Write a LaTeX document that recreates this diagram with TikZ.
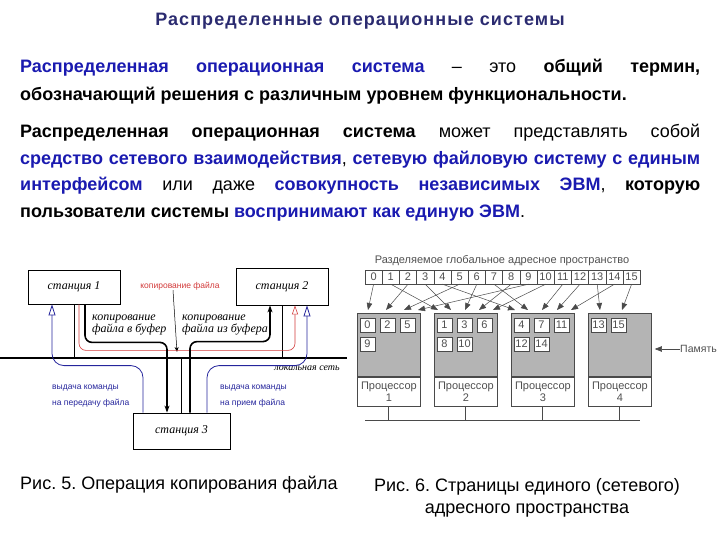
\documentclass[tikz,border=0pt]{standalone}
\usepackage{fontspec}
\setmainfont{Liberation Sans}
\newfontfamily\stationfont{Liberation Serif}
\frenchspacing
\usepackage{xcolor}
\definecolor{cTitle}{HTML}{2B2B70}
\definecolor{cTerm}{HTML}{1A1AB0}
\definecolor{cCmd}{HTML}{25259C}
\definecolor{cCopy}{HTML}{D23A3A}
\definecolor{cMem}{HTML}{B4B4B4}
\definecolor{cEdge}{HTML}{4A4A4A}
\definecolor{cGray}{HTML}{505050}
\usepackage{tikz}
\usetikzlibrary{positioning,arrows.meta,calc}
\newcommand{\hlterm}[1]{\textbf{\color{cTerm}#1}}
\tikzset{
  main-title/.style={anchor=base,inner sep=0pt,text=cTitle,
    font=\bfseries\fontsize{18}{20}\selectfont\addfontfeature{LetterSpace=6}},
  body-text/.style={anchor=base west,inner sep=0pt,text width=680pt,align=justify,
    execute at begin node={\hyphenpenalty=10000\relax}},
  caption/.style={inner sep=0pt,align=center,font=\fontsize{18}{22}\selectfont},
  % рис. 5
  station/.style={draw,line width=0.8pt,fill=white,inner sep=0pt,
    font=\stationfont\itshape\fontsize{12}{14}\selectfont},
  copy-label/.style={inner sep=0pt,align=left,
    font=\stationfont\itshape\fontsize{12}{12}\selectfont},
  net-label/.style={inner sep=0pt,font=\stationfont\itshape\fontsize{10}{12}\selectfont},
  cmd-label/.style={inner sep=0pt,align=left,text=cCmd,font=\fontsize{8.5}{16}\selectfont},
  file-label/.style={inner sep=0pt,text=cCopy,font=\fontsize{8.5}{10}\selectfont},
  net-line/.style={line width=2.2pt},
  link/.style={line width=1pt},
  copy-path/.style={line width=1.6pt,rounded corners=7pt,-{Stealth[length=7pt,width=5pt]}},
  file-path/.style={draw=cCopy,line width=0.6pt,rounded corners=7pt,
    -{Triangle[open,length=9pt,width=6pt]}},
  cmd-path/.style={draw=cCmd,line width=0.8pt,rounded corners=12pt,
    -{Triangle[open,length=11pt,width=7pt]}},
  hint-arrow/.style={line width=0.5pt,-{Stealth[length=5pt,width=4pt]}},
  % рис. 6
  space-title/.style={inner sep=0pt,text=cGray,font=\fontsize{11}{12}\selectfont},
  addr-cell/.style={draw=cEdge,fill=white,minimum width=17.2pt,minimum height=14pt,
    inner sep=0pt,text=cGray,font=\fontsize{11}{11}\selectfont},
  page-cell/.style={draw=cEdge,fill=white,minimum width=15pt,minimum height=14pt,
    inner sep=0pt,text=cGray,font=\fontsize{11}{11}\selectfont},
  mem-box/.style={draw=cEdge,fill=cMem,line width=0.8pt,anchor=north west,
    minimum width=63pt,minimum height=63pt,inner sep=0pt},
  cpu-box/.style={draw=cEdge,fill=white,line width=0.8pt,minimum width=63pt,
    minimum height=29pt,inner sep=0pt,align=center,text=cGray,
    font=\fontsize{11}{12}\selectfont},
  addr-arrow/.style={draw=cEdge,line width=0.5pt,-{Triangle[length=7pt,width=5.5pt]}},
  bus-line/.style={draw=cEdge,line width=1pt},
  mem-note/.style={inner sep=0pt,text=cGray,font=\fontsize{10.5}{12}\selectfont},
}

\begin{document}
\begin{tikzpicture}[x=1pt,y=-1pt,node distance=0pt]
  \useasboundingbox (0,0) rectangle (720,540);

  \node[main-title] (title) at (360,26) {Распределенные операционные системы};
  \node[body-text,font=\fontsize{18}{28}\selectfont] (para1) at (20,73)
    {\hlterm{Распределенная операционная система}
    -- это \textbf{общий термин,}\linebreak
    \textbf{обозначающий решения с различным уровнем функциональности.}};
  \node[body-text,font=\fontsize{18}{26.5}\selectfont] (para2) at (20,138)
    {\textbf{Распределенная операционная система}
    может представлять собой\linebreak
    \hlterm{средство сетевого взаимодействия}, \hlterm{сетевую файловую систему с единым}\linebreak
    \hlterm{интерфейсом} или даже \hlterm{совокупность независимых ЭВМ}, \textbf{которую}\linebreak
    \textbf{пользователи системы} \hlterm{воспринимают как единую ЭВМ}.};

  % рис. 5: копирование файла
  \node[station,minimum width=92pt,minimum height=34pt] (st1) at (74,287) {станция 1};
  \node[station,minimum width=92pt,minimum height=37pt] (st2) at (282,286.5) {станция 2};
  \node[station,minimum width=97pt,minimum height=36pt] (st3) at (181.5,431) {станция 3};
  \coordinate (net-w) at (0,358);
  \coordinate (net-e) at (347,358);
  \draw[net-line] (net-w) -- (net-e);
  \draw[link] (st1.south) -- (st1.south |- net-w);
  \draw[link] (st2.south) -- (st2.south |- net-w);
  \draw[link] (st3.north) -- (st3.north |- net-w);

  \node[file-label] (filelbl) at (180,286) {копирование файла};
  \coordinate (hint-tip) at (177,352);
  \draw[hint-arrow] ([xshift=-7pt]filelbl.south) -- (hint-tip);
  \draw[file-path] ([xshift=5pt]st1.south) -- ++(0,46) -| ([xshift=13pt]st2.south);
  \draw[copy-path] ([xshift=11pt]st1.south) -- ++(0,38) -| ([xshift=-14.5pt]st3.north);
  \draw[copy-path] ([xshift=8.5pt]st3.north) -- ++(0,-71) -| ([xshift=-12pt]st2.south);
  \node[copy-label,anchor=north west] (tobuf) at (92,315) {копирование\\файла в буфер};
  \node[copy-label,anchor=north west] (frombuf) at (182,315) {копирование\\файла из буфера};

  \node[net-label] (netlbl) at (307,368) {локальная сеть};
  \draw[cmd-path] ([xshift=-38.5pt]st3.north) -- ++(0,-47) -| ([xshift=-22pt]st1.south);
  \draw[cmd-path] ([xshift=25.5pt]st3.north) -- ++(0,-47) -| ([xshift=25pt]st2.south);
  \node[cmd-label,anchor=base west] (sendcmd) at (52,405) {выдача команды\\на передачу файла};
  \node[cmd-label,anchor=base west] (recvcmd) at (220,405) {выдача команды\\на прием файла};

  % рис. 6: единое адресное пространство
  \node[space-title] (space) at (502,261) {Разделяемое глобальное адресное пространство};
  \foreach \i in {0,...,15}
    \node[addr-cell] (a\i) at ({365+17.2*(\i+0.5)},277) {\i};
  \foreach \k/\x in {1/357,2/434,3/511,4/588}{
    \node[mem-box] (mem\k) at (\x,313) {};
    \node[cpu-box,below=of mem\k] (cpu\k) {Процессор\\\k};
  }
  \foreach \v/\k/\c/\r in {0/1/0/0,2/1/1/0,5/1/2/0,9/1/0/1,
      1/2/0/0,3/2/1/0,6/2/2/0,8/2/0/1,10/2/1/1,
      4/3/0/0,7/3/1/0,11/3/2/0,12/3/0/1,14/3/1/1,
      13/4/0/0,15/4/1/0}
    \node[page-cell] (p\v) at ($(mem\k.north west)+({10.5+20*\c},{12+19*\r})$) {\v};
  \foreach \v/\k/\o in {0/1/11,2/1/29,5/1/47,9/1/61,
      1/2/4,3/2/17,6/2/31,8/2/45,10/2/59,
      4/3/4,7/3/17,11/3/31,12/3/46,14/3/60,
      13/4/12,15/4/34}
    \draw[addr-arrow] (a\v.south) -- ($(mem\k.north west)+(\o,-3)$);
  \node[mem-note,anchor=west] (memnote) at (680,349) {Память};
  \draw[addr-arrow,shorten >=3pt] (memnote.west) -- (mem4.east |- memnote.west);
  \coordinate (bus-w) at (365,420);
  \coordinate (bus-e) at (640,420);
  \draw[bus-line] (bus-w) -- (bus-e);
  \foreach \k in {1,...,4}
    \draw[bus-line] (cpu\k.south) -- (cpu\k.south |- bus-w);

  \node[caption,anchor=base west] (cap5) at (20,489) {Рис. 5. Операция копирования файла};
  \node[caption,anchor=base] (cap6) at (527,513) {Рис. 6. Страницы единого (сетевого)\\адресного пространства};
\end{tikzpicture}
\end{document}
